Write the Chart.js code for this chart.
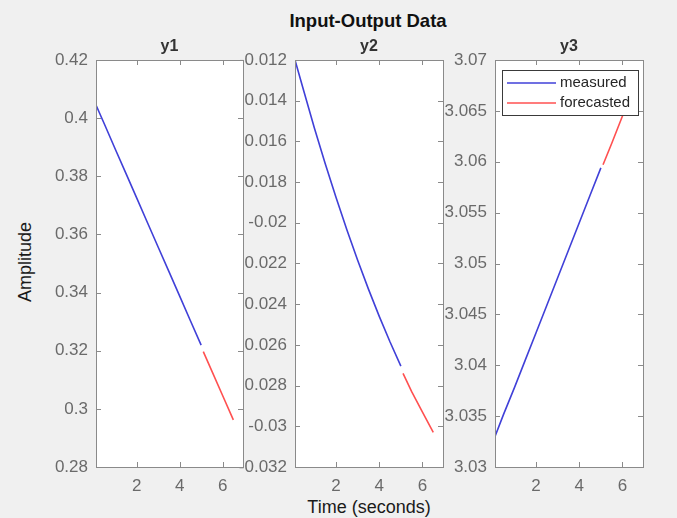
<!DOCTYPE html>
<html><head><meta charset="utf-8">
<script src="https://cdn.jsdelivr.net/npm/chart.js@4.4.1/dist/chart.umd.min.js"></script>
<style>
html,body{margin:0;padding:0;background:#f0f0f0;}
#wrap{position:relative;width:677px;height:518px;background:#f0f0f0;overflow:hidden;font-family:"Liberation Sans",Arial,sans-serif;}
canvas{position:absolute;top:0;}
.lbl{position:absolute;white-space:nowrap;color:#1a1a1a;line-height:20px;}
</style></head><body>
<div id="wrap">
<canvas id="c1" width="158" height="518"></canvas>
<canvas id="c2" width="158" height="518"></canvas>
<canvas id="c3" width="158" height="518"></canvas>
<div class="lbl" id="mainTitle" style="left:368px;top:11px;transform:translateX(-50%);font-weight:bold;font-size:18.5px;color:#111;">Input-Output Data</div>
<div class="lbl" id="yLabel" style="left:25px;top:262px;transform:translate(-50%,-50%) rotate(-90deg);font-size:18px;">Amplitude</div>
<div class="lbl" id="xLabel" style="left:369px;top:497px;transform:translateX(-50%);font-size:18px;">Time (seconds)</div>
</div>
<script>
// ---- data ----
const tMeasured = [0.1, 0.5, 1, 1.5, 2, 2.5, 3, 3.5, 4, 4.5, 5];
const tForecast = [5.1, 5.5, 6, 6.5];

const y1Measured = [0.4045, 0.3978, 0.3893, 0.3809, 0.3725, 0.3640, 0.3556, 0.3472, 0.3388, 0.3303, 0.3219];
const y1Forecast = [0.3197, 0.3130, 0.3046, 0.2962];

const y2Measured = [-0.0120, -0.0135, -0.01535, -0.0171, -0.01876, -0.02034, -0.02184, -0.02326, -0.0246, -0.02586, -0.02704];
const y2Forecast = [-0.0274, -0.0283, -0.0293, -0.0303];

const y3Measured = [3.0330, 3.0352, 3.0378, 3.0405, 3.0432, 3.0459, 3.0486, 3.0513, 3.0540, 3.0567, 3.0594];
const y3Forecast = [3.0597, 3.0618, 3.0645, 3.0672];

const xTicks = [2, 4, 6];
const y1Ticks = [0.28, 0.30, 0.32, 0.34, 0.36, 0.38, 0.40, 0.42];
const y2Ticks = [-0.032, -0.030, -0.028, -0.026, -0.024, -0.022, -0.020, -0.018, -0.016, -0.014, -0.012];
const y3Ticks = [3.030, 3.035, 3.040, 3.045, 3.050, 3.055, 3.060, 3.065, 3.070];

const seriesNames = ['measured', 'forecasted'];
const panelTitles = ['y1', 'y2', 'y3'];

// ---- style ----
const FONT = '"Liberation Sans", Arial, sans-serif';
const BLUE = '#4040d8';
const RED = '#ff5050';
const AXIS = '#8a8a8a';
const TICKTXT = '#6a6a6a';
const PLOT_TOP = 60, PLOT_BOTTOM = 467, Y_W = 70, X_H = 35, PAD_R = 8;
const X_MIN = 0.1, X_MAX = 6.95;

function pts(xs, ys){ return xs.map((x,i)=>({x:x, y:ys[i]})); }
function fmt(v){ return String(parseFloat(Number(v).toFixed(4))); }

const framePlugin = {
  id: 'frame',
  beforeDraw(chart){
    const {ctx, chartArea:a} = chart;
    ctx.save();
    ctx.fillStyle = '#ffffff';
    ctx.fillRect(a.left, a.top, a.right - a.left, a.bottom - a.top);
    ctx.restore();
  },
  afterDraw(chart){
    const {ctx, chartArea:a, scales} = chart;
    const o = chart.options.plugins.frame || {};
    ctx.save();
    ctx.strokeStyle = AXIS;
    ctx.lineWidth = 1;
    ctx.beginPath();
    scales.x.ticks.forEach(t => {
      const px = Math.round(scales.x.getPixelForValue(t.value)) + 0.5;
      ctx.moveTo(px, a.bottom); ctx.lineTo(px, a.bottom - 5);
      ctx.moveTo(px, a.top); ctx.lineTo(px, a.top + 5);
    });
    scales.y.ticks.forEach(t => {
      const py = Math.round(scales.y.getPixelForValue(t.value)) + 0.5;
      ctx.moveTo(a.left, py); ctx.lineTo(a.left + 5, py);
      ctx.moveTo(a.right, py); ctx.lineTo(a.right - 5, py);
    });
    ctx.stroke();
    ctx.strokeRect(Math.round(a.left) + 0.5, Math.round(a.top) + 0.5, Math.round(a.right - a.left), Math.round(a.bottom - a.top));
    ctx.fillStyle = '#333333';
    ctx.font = 'bold 16px ' + FONT;
    ctx.textAlign = 'center';
    ctx.textBaseline = 'middle';
    ctx.fillText(o.title, (a.left + a.right) / 2, a.top - 13);
    if (o.legend) {
      const w = 136, h = 45;
      const lx = a.right - 5 - w, ly = a.top + 10;
      ctx.fillStyle = '#ffffff';
      ctx.fillRect(lx, ly, w, h);
      ctx.strokeStyle = '#3a3a3a';
      ctx.strokeRect(Math.round(lx) + 0.5, Math.round(ly) + 0.5, w, h);
      chart.data.datasets.forEach((ds, i) => {
        const yy = ly + 13 + i * 20;
        ctx.strokeStyle = ds.borderColor;
        ctx.lineWidth = 1.5;
        ctx.beginPath();
        ctx.moveTo(lx + 5, yy); ctx.lineTo(lx + 54, yy);
        ctx.stroke();
        ctx.fillStyle = '#262626';
        ctx.font = '15px ' + FONT;
        ctx.textAlign = 'left';
        ctx.textBaseline = 'middle';
        ctx.fillText(ds.label, lx + 58, yy);
      });
    }
    ctx.restore();
  }
};

function makePanel(id, plotLeft, plotRight, z, yMin, yMax, yTicks, meas, fc, title, legend){
  const cv = document.getElementById(id);
  const plotW = plotRight - plotLeft;
  cv.width = Y_W + plotW + PAD_R;
  cv.height = 518;
  cv.style.left = (plotLeft - Y_W) + 'px';
  cv.style.zIndex = z;
  new Chart(cv, {
    type: 'line',
    data: {
      datasets: [
        {label: seriesNames[0], data: pts(tMeasured, meas), borderColor: BLUE, borderWidth: 1.6, pointRadius: 0, fill: false, tension: 0},
        {label: seriesNames[1], data: pts(tForecast, fc), borderColor: RED, borderWidth: 1.6, pointRadius: 0, fill: false, tension: 0}
      ]
    },
    options: {
      responsive: false,
      animation: false,
      events: [],
      layout: {padding: {top: PLOT_TOP, bottom: 518 - PLOT_BOTTOM - X_H, left: 0, right: PAD_R}},
      plugins: {legend: {display: false}, tooltip: {enabled: false}, title: {display: false}, frame: {title: title, legend: legend}},
      scales: {
        x: {
          type: 'linear', min: X_MIN, max: X_MAX,
          grid: {display: false, drawTicks: false, tickLength: 0},
          border: {display: false},
          afterBuildTicks: s => { s.ticks = xTicks.map(v => ({value: v})); },
          afterFit: s => { s.height = X_H; },
          ticks: {padding: 9, color: TICKTXT, font: {family: FONT, size: 17}, callback: v => fmt(v), maxRotation: 0}
        },
        y: {
          type: 'linear', min: yMin, max: yMax,
          grid: {display: false, drawTicks: false, tickLength: 0},
          border: {display: false},
          afterBuildTicks: s => { s.ticks = yTicks.map(v => ({value: v})); },
          afterFit: s => { s.width = Y_W; },
          ticks: {padding: 8, color: TICKTXT, font: {family: FONT, size: 17}, callback: v => fmt(v)}
        }
      }
    },
    plugins: [framePlugin]
  });
}

makePanel('c1', 96, 243, 3, y1Ticks[0], y1Ticks[y1Ticks.length-1], y1Ticks, y1Measured, y1Forecast, panelTitles[0], false);
makePanel('c2', 295, 443, 2, y2Ticks[0], y2Ticks[y2Ticks.length-1], y2Ticks, y2Measured, y2Forecast, panelTitles[1], false);
makePanel('c3', 495, 643, 1, y3Ticks[0], y3Ticks[y3Ticks.length-1], y3Ticks, y3Measured, y3Forecast, panelTitles[2], true);
</script>
</body></html>
